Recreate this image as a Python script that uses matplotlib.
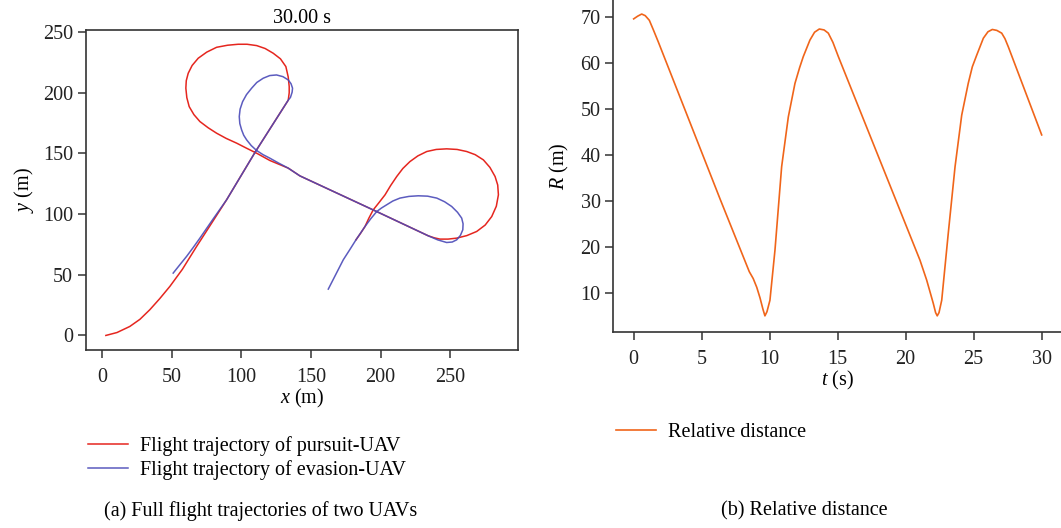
# Pursuit / evasion UAV trajectories and relative distance
import matplotlib
matplotlib.use('Agg')
import matplotlib.pyplot as plt

plt.rcParams['font.family'] = ['Liberation Serif', 'DejaVu Serif']
plt.rcParams['mathtext.fontset'] = 'custom'
plt.rcParams['mathtext.it'] = 'Liberation Serif:italic'
plt.rcParams['mathtext.rm'] = 'Liberation Serif'
fs = 14.5
plt.rcParams['font.size'] = fs

# pursuit-UAV path
pursuit_x = [2.5, 10.5, 19.7, 27.0, 34.1, 41.2, 48.5, 57.5, 67.7, 78.5, 89.3, 110.1, 133.6,
             134.3, 134.3, 133.6, 131.9, 128.0, 122.8, 117.0, 110.9, 104.0, 97.6, 90.0, 82.1,
             75.0, 68.9, 64.5, 61.7, 60.3, 60.0, 60.7, 62.4, 65.8, 70.1, 76.0, 82.1, 89.0,
             96.5, 103.5, 110.9, 120.4, 133.6, 142.0, 197.2, 234.3, 238.5, 242.7, 248.5,
             254.7, 262.0, 269.1, 275.2, 279.9, 283.2, 284.7, 284.2, 282.3, 278.6, 273.9,
             268.0, 261.9, 255.0, 247.5, 240.0, 233.2, 226.8, 221.1, 216.0, 211.6, 207.2,
             203.2, 198.8, 194.7, 191.5, 188.8, 185.5, 182.3]
pursuit_y = [0.0, 2.4, 7.4, 13.3, 21.2, 30.3, 40.4, 54.5, 73.3, 92.5, 111.8, 151.6, 193.9,
             200.0, 205.1, 213.0, 221.6, 228.0, 232.6, 236.5, 238.9, 240.0, 240.0, 239.2, 237.5,
             233.5, 228.5, 222.5, 216.1, 210.0, 203.8, 196.0, 188.6, 182.0, 176.3, 171.2, 166.7, 162.4,
             158.5, 154.4, 150.2, 144.2, 137.9, 131.5, 102.1, 82.1, 80.5, 79.4, 79.4,
             80.2, 82.3, 85.7, 91.0, 98.0, 106.5, 115.9, 124.0, 131.0, 138.5, 144.7,
             149.0, 151.6, 153.3, 153.8, 153.3, 151.6, 148.0, 143.3, 137.6, 131.0, 123.5,
             115.9, 109.4, 103.5, 96.5, 89.8, 84.0, 78.8]

# evasion-UAV path
evasion_x = [50.9, 55.5, 60.5, 65.3, 70.1, 79.5, 89.3, 110.1, 133.6, 135.2, 136.4, 136.7,
             135.6, 133.6, 129.8, 125.2, 120.3, 115.6, 111.0, 107.3, 103.6, 100.8, 99.0, 98.4,
             98.8, 100.1, 101.6, 103.7, 107.0, 110.9, 115.5, 120.4, 126.8, 133.6, 142.0, 197.2,
             234.3, 241.0, 247.5, 251.5, 254.7, 257.4, 259.1, 259.3, 258.3, 255.3, 251.1,
             246.0, 240.4, 233.8, 227.1, 220.4, 213.9, 208.8, 204.4, 200.6, 197.2, 192.8,
             188.8, 185.5, 182.3, 177.8, 173.2, 167.8, 162.4]
evasion_y = [51.4, 58.0, 65.1, 72.5, 80.2, 95.8, 111.8, 151.6, 193.9, 196.2, 200.5, 203.8,
             207.5, 210.6, 213.3, 214.7, 214.2, 212.0, 208.5, 203.8, 198.5, 192.7, 186.5, 180.4,
             174.6, 169.4, 165.0, 161.2, 156.5, 152.4, 149.0, 146.1, 142.0, 137.9, 131.5, 102.1,
             82.1, 78.8, 76.6, 77.0, 78.8, 82.5, 87.1, 92.0, 96.7, 101.5, 106.3,
             110.2, 113.2, 114.8, 115.1, 114.6, 113.2, 110.8, 107.7, 105.0, 102.1, 96.0,
             89.8, 84.2, 78.8, 70.6, 62.4, 50.3, 38.2]

# relative distance R(t)
t_s = [0.0, 0.3, 0.59, 0.85, 1.15, 1.45, 1.81, 6.35, 8.5, 8.79, 9.05, 9.29, 9.5, 9.65, 9.8,
       10.02, 10.39, 10.88, 11.37, 11.86, 12.2, 12.47, 12.96, 13.3, 13.65, 14.0, 14.31,
       14.65, 15.05, 21.05, 21.54, 21.8, 22.03, 22.2, 22.32, 22.45, 22.65, 23.13, 23.63,
       24.12, 24.6, 24.9, 25.22, 25.71, 26.05, 26.37, 26.7, 27.06, 27.3, 27.55, 30.0]
r_m = [69.6, 70.2, 70.65, 70.3, 69.3, 67.2, 64.6, 30.5, 14.7, 13.2, 11.3, 9.0, 6.6, 5.1, 6.0,
       8.5, 19.4, 37.5, 48.3, 55.6, 59.0, 61.4, 65.0, 66.7, 67.4, 67.2, 66.5,
       64.5, 61.4, 17.2, 12.9, 10.2, 7.8, 5.8, 5.1, 5.8, 8.5, 23.0, 37.5,
       48.7, 55.6, 59.2, 61.7, 65.4, 66.8, 67.3, 67.1, 66.5, 65.3, 63.5, 44.4]

red = '#e5261f'
blue = '#4a4ab8'
orange = '#f0651a'
axcol = '#333333'

W, H = 1061, 528
fig = plt.figure(figsize=(W / 100, H / 100), dpi=100)

ax1 = fig.add_axes([85.7 / W, 1 - 350 / H, (518.3 - 85.7) / W, (350 - 29.7) / H])
ax2 = fig.add_axes([613 / W, 1 - 331.7 / H, (W - 613) / W, 331.7 / H])

l1, = ax1.plot(pursuit_x, pursuit_y, color=red, lw=1.1, label='Flight trajectory of pursuit-UAV')
l2, = ax1.plot(evasion_x, evasion_y, color=blue, lw=1.1, alpha=0.9,
               label='Flight trajectory of evasion-UAV')
ax1.set_xlim(-12, 299)
ax1.set_ylim(-12, 252)
ax1.set_xticks([0, 50, 100, 150, 200, 250])
ax1.set_yticks([0, 50, 100, 150, 200, 250])
ax1.set_xlabel('$x$ (m)', labelpad=0)
ax1.set_ylabel('$y$ (m)', labelpad=5)
ax1.set_title('30.00 s', fontsize=fs, pad=5)

l3, = ax2.plot(t_s, r_m, color=orange, lw=1.2, label='Relative distance')
ax2.set_xlim(-1.52, 31.42)
ax2.set_ylim(1.66, 73.7)
ax2.set_xticks([0, 5, 10, 15, 20, 25, 30])
ax2.set_yticks([10, 20, 30, 40, 50, 60, 70])
ax2.set_xlabel('$t$ (s)', labelpad=0)
ax2.set_ylabel('$R$ (m)', labelpad=7)
ax2.spines['top'].set_visible(False)
ax2.spines['right'].set_visible(False)

for ax in (ax1, ax2):
    for sp in ax.spines.values():
        sp.set_color(axcol)
        sp.set_linewidth(1.2)
    ax.tick_params(direction='out', length=6, width=1.1, color=axcol,
                   labelcolor='#222222', labelsize=fs)
    ax.tick_params(axis='x', pad=7)
    ax.tick_params(axis='y', pad=3)

fig.legend(handles=[l1, l2], loc='upper left', bbox_to_anchor=(80 / W, 1 - 428 / H),
           frameon=False, handlelength=2.0, handletextpad=0.6, labelspacing=0.2,
           borderaxespad=0, fontsize=fs)
fig.legend(handles=[l3], loc='upper left', bbox_to_anchor=(608 / W, 1 - 415 / H),
           frameon=False, handlelength=2.0, handletextpad=0.6, borderaxespad=0, fontsize=fs)

fig.text(261 / W, 1 - 511 / H, '(a) Full flight trajectories of two UAVs',
         ha='center', va='center', fontsize=fs)
fig.text(804 / W, 1 - 511 / H, '(b) Relative distance', ha='center', va='center', fontsize=fs)

fig.savefig('out.png', dpi=100)
